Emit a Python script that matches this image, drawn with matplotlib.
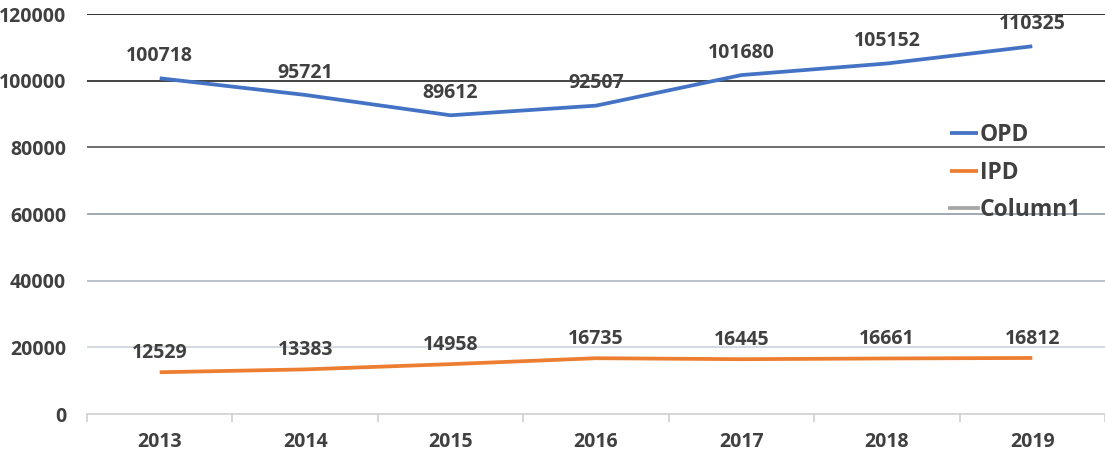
import matplotlib
matplotlib.use("Agg")
import matplotlib.pyplot as plt

years = ["2013", "2014", "2015", "2016", "2017", "2018", "2019"]
opd = [100718, 95721, 89612, 92507, 101680, 105152, 110325]
ipd = [12529, 13383, 14958, 16735, 16445, 16661, 16812]
yticks = [0, 20000, 40000, 60000, 80000, 100000, 120000]
series_names = ["OPD", "IPD", "Column1"]

plt.rcParams['font.family'] = ['Open Sans', 'DejaVu Sans']
text_color = '#404040'
fs = 14

fig = plt.figure(figsize=(11.05, 4.57), dpi=100)
ax = fig.add_axes([87/1105, 1 - 414/457, 1 - 87/1105, 400/457])

x = list(range(len(years)))
ax.set_xlim(-0.5, len(years) - 0.5)
ax.set_ylim(0, 120000)

grid_colors = {20000: '#CDD3DA', 40000: '#AEB8C3', 60000: '#8D9BAA',
               80000: '#555555', 100000: '#222222', 120000: '#111111'}
for v in yticks[1:]:
    ax.axhline(v, color=grid_colors[v], lw=1.2, zorder=1)

for s in ax.spines.values():
    s.set_visible(False)
ax.axhline(0, color='#D0D0D0', lw=1.2, zorder=1, clip_on=False)

l1, = ax.plot(x, opd, color='#4472C4', lw=2.7, zorder=3, solid_capstyle='butt')
l2, = ax.plot(x, ipd, color='#ED7D31', lw=2.7, zorder=3, solid_capstyle='butt')
l3, = ax.plot([], [], color='#A5A5A5', lw=2.7)

for xi, v in zip(x, opd):
    ax.annotate(str(v), (xi, v), xytext=(0, 16), textcoords='offset points',
                ha='center', va='center', fontsize=fs, fontweight='bold', color=text_color)
for xi, v in zip(x, ipd):
    ax.annotate(str(v), (xi, v), xytext=(0, 14), textcoords='offset points',
                ha='center', va='center', fontsize=fs, fontweight='bold', color=text_color)

ax.set_yticks(yticks)
ax.set_yticklabels([str(v) for v in yticks], fontsize=fs, fontweight='bold', color=text_color)
ax.tick_params(axis='y', length=0, pad=15)

ax.set_xticks(x)
ax.set_xticklabels(years, fontsize=fs, fontweight='bold', color=text_color)
ax.tick_params(axis='x', length=0, pad=13)
ax.set_xticks([i - 0.5 for i in range(len(years) + 1)], minor=True)
ax.tick_params(axis='x', which='minor', length=6, color='#D0D0D0', width=1.2)

leg = ax.legend([l1, l2, l3], series_names, loc='upper left',
                frameon=False, prop={'size': 16.5, 'weight': 'bold'},
                handlelength=1.2, handletextpad=0.1, labelspacing=0.6,
                borderaxespad=0, borderpad=0)
leg.set_bbox_to_anchor((950/1105, 1 - 123/457), transform=fig.transFigure)
for t in leg.get_texts():
    t.set_color(text_color)

fig.savefig("out.png", dpi=100)
